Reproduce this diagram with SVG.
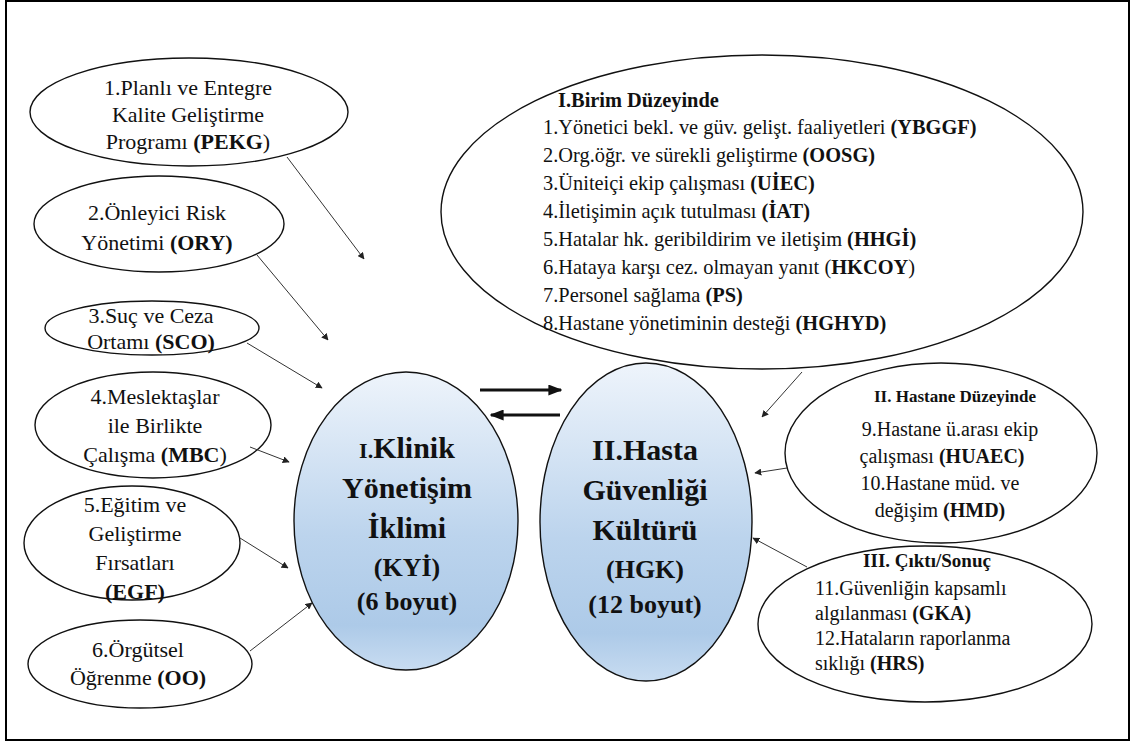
<svg xmlns="http://www.w3.org/2000/svg" width="1136" height="744" viewBox="0 0 1136 744">
  <defs>
    <linearGradient id="blueFill" x1="0" y1="0" x2="0" y2="1">
      <stop offset="0" stop-color="#eef4fb"/>
      <stop offset="0.55" stop-color="#bcd4ed"/>
      <stop offset="0.85" stop-color="#adcae8"/>
      <stop offset="1" stop-color="#c8dcf1"/>
    </linearGradient>
    <marker id="thinHead" viewBox="0 0 10 10" refX="9" refY="5" markerWidth="7" markerHeight="7" markerUnits="userSpaceOnUse" orient="auto">
      <path d="M0,0 L10,5 L0,10 z" fill="#222"/>
    </marker>
    <marker id="boldHead" viewBox="0 0 10 10" refX="9" refY="5" markerWidth="14" markerHeight="11" markerUnits="userSpaceOnUse" orient="auto" preserveAspectRatio="none">
      <path d="M0,0 L10,5 L0,10 z" fill="#111"/>
    </marker>
    <style>
      .frame { fill: #fff; stroke: #000; stroke-width: 2; }
      .oval { fill: #fff; stroke: #111; stroke-width: 1.4; }
      .core { fill: url(#blueFill); stroke: #111; stroke-width: 1.4; }
      text { font-family: 'Liberation Serif', 'Times New Roman', serif; fill: #111; }
      .s22 { font-size: 22px; }
      .s21 { font-size: 20.4px; }
      .s20 { font-size: 20px; }
      .mid { text-anchor: middle; }
      .b { font-weight: bold; }
      .big { font-weight: bold; text-anchor: middle; }
      .link { stroke: #333; stroke-width: 1; fill: none; marker-end: url(#thinHead); }
      .flow { stroke: #111; stroke-width: 3; fill: none; marker-end: url(#boldHead); }
    </style>
  </defs>

  <rect class="frame" x="6" y="1" width="1123" height="739"/>

  <!-- factor ovals, left column -->
  <g id="pekg">
    <ellipse class="oval" cx="189" cy="112" rx="159" ry="54"/>
    <text class="s22 mid" x="188" y="95">1.Planlı ve Entegre</text>
    <text class="s22 mid" x="188" y="122">Kalite Geliştirme</text>
    <text class="s22 mid" x="188" y="149">Programı <tspan class="b">(PEKG</tspan>)</text>
  </g>
  <g id="ory">
    <ellipse class="oval" cx="159" cy="224" rx="125" ry="48"/>
    <text class="s22 mid" x="157" y="220">2.Önleyici Risk</text>
    <text class="s22 mid" x="157" y="250">Yönetimi <tspan class="b">(ORY)</tspan></text>
  </g>
  <g id="sco">
    <ellipse class="oval" cx="152" cy="328" rx="107" ry="27"/>
    <text class="s22 mid" x="151" y="323">3.Suç ve Ceza</text>
    <text class="s22 mid" x="151" y="349">Ortamı <tspan class="b">(SCO)</tspan></text>
  </g>
  <g id="mbc">
    <ellipse class="oval" cx="153" cy="425" rx="118" ry="53"/>
    <text class="s22 mid" x="155" y="404">4.Meslektaşlar</text>
    <text class="s22 mid" x="155" y="433">ile Birlikte</text>
    <text class="s22 mid" x="155" y="462">Çalışma <tspan class="b">(MBC</tspan>)</text>
  </g>
  <g id="egf">
    <ellipse class="oval" cx="132" cy="543" rx="108" ry="57"/>
    <text class="s22 mid" x="135" y="512">5.Eğitim ve</text>
    <text class="s22 mid" x="135" y="541">Geliştirme</text>
    <text class="s22 mid" x="135" y="570">Fırsatları</text>
    <text class="s22 mid b" x="135" y="599">(EGF)</text>
  </g>
  <g id="oo">
    <ellipse class="oval" cx="140" cy="664" rx="112" ry="44"/>
    <text class="s22 mid" x="138" y="657">6.Örgütsel</text>
    <text class="s22 mid" x="138" y="685">Öğrenme <tspan class="b">(OO)</tspan></text>
  </g>

  <!-- unit-level dimensions -->
  <g id="birim">
    <ellipse class="oval" cx="762" cy="212" rx="321" ry="157"/>
    <text class="s21 b" x="558" y="107">I.Birim Düzeyinde</text>
    <text class="s21" x="543" y="134">1.Yönetici bekl. ve güv. gelişt. faaliyetleri <tspan class="b">(YBGGF)</tspan></text>
    <text class="s21" x="543" y="162">2.Org.öğr. ve sürekli geliştirme <tspan class="b">(OOSG)</tspan></text>
    <text class="s21" x="543" y="190">3.Üniteiçi ekip çalışması <tspan class="b">(UİEC)</tspan></text>
    <text class="s21" x="543" y="218">4.İletişimin açık tutulması <tspan class="b">(İAT)</tspan></text>
    <text class="s21" x="543" y="246">5.Hatalar hk. geribildirim ve iletişim <tspan class="b">(HHGİ)</tspan></text>
    <text class="s21" x="543" y="274">6.Hataya karşı cez. olmayan yanıt (<tspan class="b">HKCOY</tspan>)</text>
    <text class="s21" x="543" y="302">7.Personel sağlama <tspan class="b">(PS)</tspan></text>
    <text class="s21" x="543" y="330">8.Hastane yönetiminin desteği <tspan class="b">(HGHYD)</tspan></text>
  </g>

  <!-- hospital-level dimensions -->
  <g id="hastane">
    <ellipse class="oval" cx="941" cy="453" rx="156" ry="90"/>
    <text class="mid b" font-size="17" x="955" y="402">II. Hastane Düzeyinde</text>
    <text class="s20 mid" x="950" y="436">9.Hastane ü.arası ekip</text>
    <text class="s20 mid" x="942" y="463">çalışması <tspan class="b">(HUAEC)</tspan></text>
    <text class="s20 mid" x="940" y="490">10.Hastane müd. ve</text>
    <text class="s20 mid" x="940" y="517">değişim <tspan class="b">(HMD)</tspan></text>
  </g>

  <!-- outcome dimensions -->
  <g id="cikti">
    <ellipse class="oval" cx="925" cy="624" rx="167" ry="78"/>
    <text class="mid b" font-size="19" x="927" y="567">III. Çıktı/Sonuç</text>
    <text class="s20" x="815" y="595">11.Güvenliğin kapsamlı</text>
    <text class="s20" x="815" y="620">algılanması <tspan class="b">(GKA)</tspan></text>
    <text class="s20" x="815" y="645">12.Hataların raporlanma</text>
    <text class="s20" x="815" y="670">sıklığı <tspan class="b">(HRS)</tspan></text>
  </g>

  <!-- central constructs -->
  <g id="kyi">
    <ellipse class="core" cx="406" cy="521" rx="112" ry="149"/>
    <text class="big" font-size="30" x="407" y="458"><tspan font-size="22">I.</tspan>Klinik</text>
    <text class="big" font-size="30" x="407" y="498">Yönetişim</text>
    <text class="big" font-size="30" x="407" y="538">İklimi</text>
    <text class="big" font-size="26" x="407" y="576">(KYİ)</text>
    <text class="big" font-size="26" x="407" y="610">(6 boyut)</text>
  </g>
  <g id="hgk">
    <ellipse class="core" cx="646" cy="522" rx="106" ry="159"/>
    <text class="big" font-size="30" x="645" y="460">II.Hasta</text>
    <text class="big" font-size="30" x="645" y="500">Güvenliği</text>
    <text class="big" font-size="30" x="645" y="540">Kültürü</text>
    <text class="big" font-size="26" x="645" y="578">(HGK)</text>
    <text class="big" font-size="26" x="645" y="613">(12 boyut)</text>
  </g>

  <!-- connectors -->
  <g id="connectors">
    <line class="link" x1="287" y1="157" x2="364" y2="259"/>
    <line class="link" x1="257" y1="255" x2="328" y2="340"/>
    <line class="link" x1="247" y1="343" x2="322" y2="388"/>
    <line class="link" x1="250" y1="447" x2="289" y2="462"/>
    <line class="link" x1="240" y1="538" x2="288" y2="568"/>
    <line class="link" x1="250" y1="651" x2="312" y2="603"/>
    <line class="link" x1="802" y1="372" x2="762" y2="417"/>
    <line class="link" x1="787" y1="468" x2="755" y2="473"/>
    <line class="link" x1="807" y1="567" x2="753" y2="538"/>
    <line class="flow" x1="480" y1="390" x2="561" y2="390"/>
    <line class="flow" x1="560" y1="415" x2="491" y2="415"/>
  </g>
</svg>
